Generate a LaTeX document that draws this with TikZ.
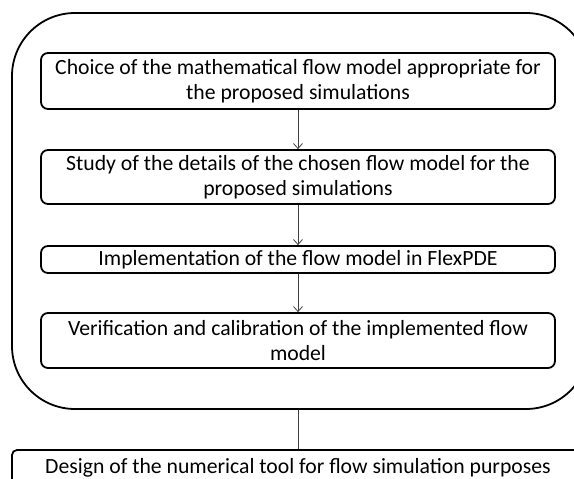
\documentclass[tikz,border=0pt]{standalone}
\usepackage{fontspec}
\setmainfont{Carlito}
\usetikzlibrary{arrows.meta}
\begin{document}
\begin{tikzpicture}[x=1pt,y=-1pt,
  stepbox/.style={draw=black,line width=1.8pt,rounded corners=7pt,minimum width=514pt,align=center,inner sep=0pt,font=\fontsize{21.7}{24.5}\selectfont},
  outerbox/.style={draw=black,line width=1.8pt,rounded corners=63pt,minimum width=577pt,minimum height=396pt,inner sep=0pt},
  flow/.style={draw=black!75,line width=0.8pt,-{Straight Barb[length=5pt,width=9pt,line width=0.8pt]}},
  link/.style={draw=black!75,line width=0.9pt}]
\useasboundingbox (0,0) rectangle (574,479);
\clip (0,0) rectangle (574,479);
\node[outerbox] (outer) at (300.5,211) {};
\node[stepbox,minimum height=56pt] (b1) at (298,81) {Choice of the mathematical flow model appropriate for\\the proposed simulations};
\node[stepbox,minimum height=54pt] (b2) at (298,177) {Study of the details of the chosen flow model for the\\proposed simulations};
\node[stepbox,minimum height=27pt] (b3) at (298,259.5) {Implementation of the flow model in FlexPDE};
\node[stepbox,minimum height=55pt] (b4) at (298,340.5) {Verification and calibration of the implemented flow\\model};
\node[stepbox,rounded corners=5pt,minimum width=572pt,minimum height=36pt] (b5) at (298,468) {Design of the numerical tool for flow simulation purposes};
\draw[flow] (b1.south) -- (b2.north);
\draw[flow] (b2.south) -- (b3.north);
\draw[flow] (b3.south) -- (b4.north);
\draw[link] (b5.north |- outer.south) -- (b5.north);
\end{tikzpicture}
\end{document}
